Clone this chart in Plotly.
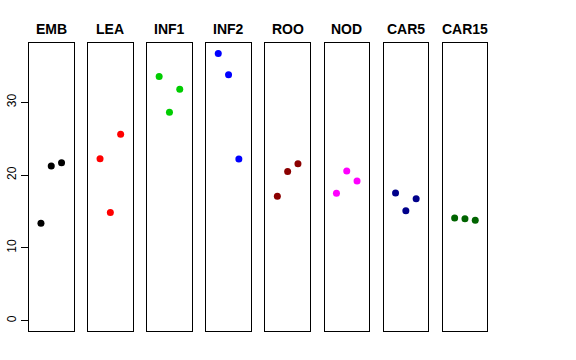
import plotly.graph_objects as go

categories = ["EMB", "LEA", "INF1", "INF2", "ROO", "NOD", "CAR5", "CAR15"]
replicates = [1, 2, 3]
values = {
    "EMB":   [13.4, 21.25, 21.7],
    "LEA":   [22.25, 14.85, 25.6],
    "INF1":  [33.55, 28.65, 31.8],
    "INF2":  [36.7, 33.8, 22.2],
    "ROO":   [17.1, 20.5, 21.55],
    "NOD":   [17.5, 20.55, 19.2],
    "CAR5":  [17.55, 15.1, 16.75],
    "CAR15": [14.1, 14.0, 13.8],
}
colors = ["#000000", "#FF0000", "#00CD00", "#0000FF", "#8B0000", "#FF00FF", "#00008B", "#006400"]
y_ticks = [0, 10, 20, 30]

W, H = 576, 360
left0, pw, step = 29.0, 44.5, 59.1
top_px, bot_px = 43.0, 331.0
ydom = [(H - bot_px) / H, (H - top_px) / H]

fig = go.Figure()
layout = dict(
    width=W, height=H, margin=dict(l=0, r=0, t=0, b=0, autoexpand=False),
    paper_bgcolor="white", plot_bgcolor="white", showlegend=False,
    font=dict(family="Liberation Sans, Arial, sans-serif", color="black"),
)
annotations = []
for i, (cat, col) in enumerate(zip(categories, colors)):
    n = "" if i == 0 else str(i + 1)
    fig.add_trace(go.Scatter(
        x=replicates, y=values[cat], mode="markers",
        marker=dict(color=col, size=7), xaxis="x" + n, yaxis="y" + n,
    ))
    x0 = (left0 + i * step) / W
    x1 = (left0 + i * step + pw) / W
    layout["xaxis" + n] = dict(
        domain=[x0, x1], range=[-0.16, 4.16], anchor="y" + n, automargin=False,
        showgrid=False, zeroline=False, showticklabels=False, ticks="",
        showline=True, mirror=True, linecolor="black", linewidth=1,
    )
    yax = dict(
        domain=ydom, range=[-1.42, 38.15], anchor="x" + n, automargin=False,
        showgrid=False, zeroline=False,
        showline=True, mirror=True, linecolor="black", linewidth=1,
    )
    if i == 0:
        yax.update(tickvals=y_ticks, ticktext=[str(t) for t in y_ticks],
                   ticks="outside", ticklen=7, tickcolor="black",
                   tickangle=-90, tickfont=dict(size=12, color="black"))
    else:
        yax.update(showticklabels=False, ticks="")
    layout["yaxis" + n] = yax
    annotations.append(dict(
        x=(x0 + x1) / 2, y=(H - 29) / H, xref="paper", yref="paper",
        text="<b>" + cat + "</b>", showarrow=False,
        font=dict(size=14, color="black"), xanchor="center", yanchor="middle",
    ))
layout["annotations"] = annotations
fig.update_layout(**layout)
fig.write_html("out.html", config={"displayModeBar": False},
               post_script="document.body.style.margin='0';")
